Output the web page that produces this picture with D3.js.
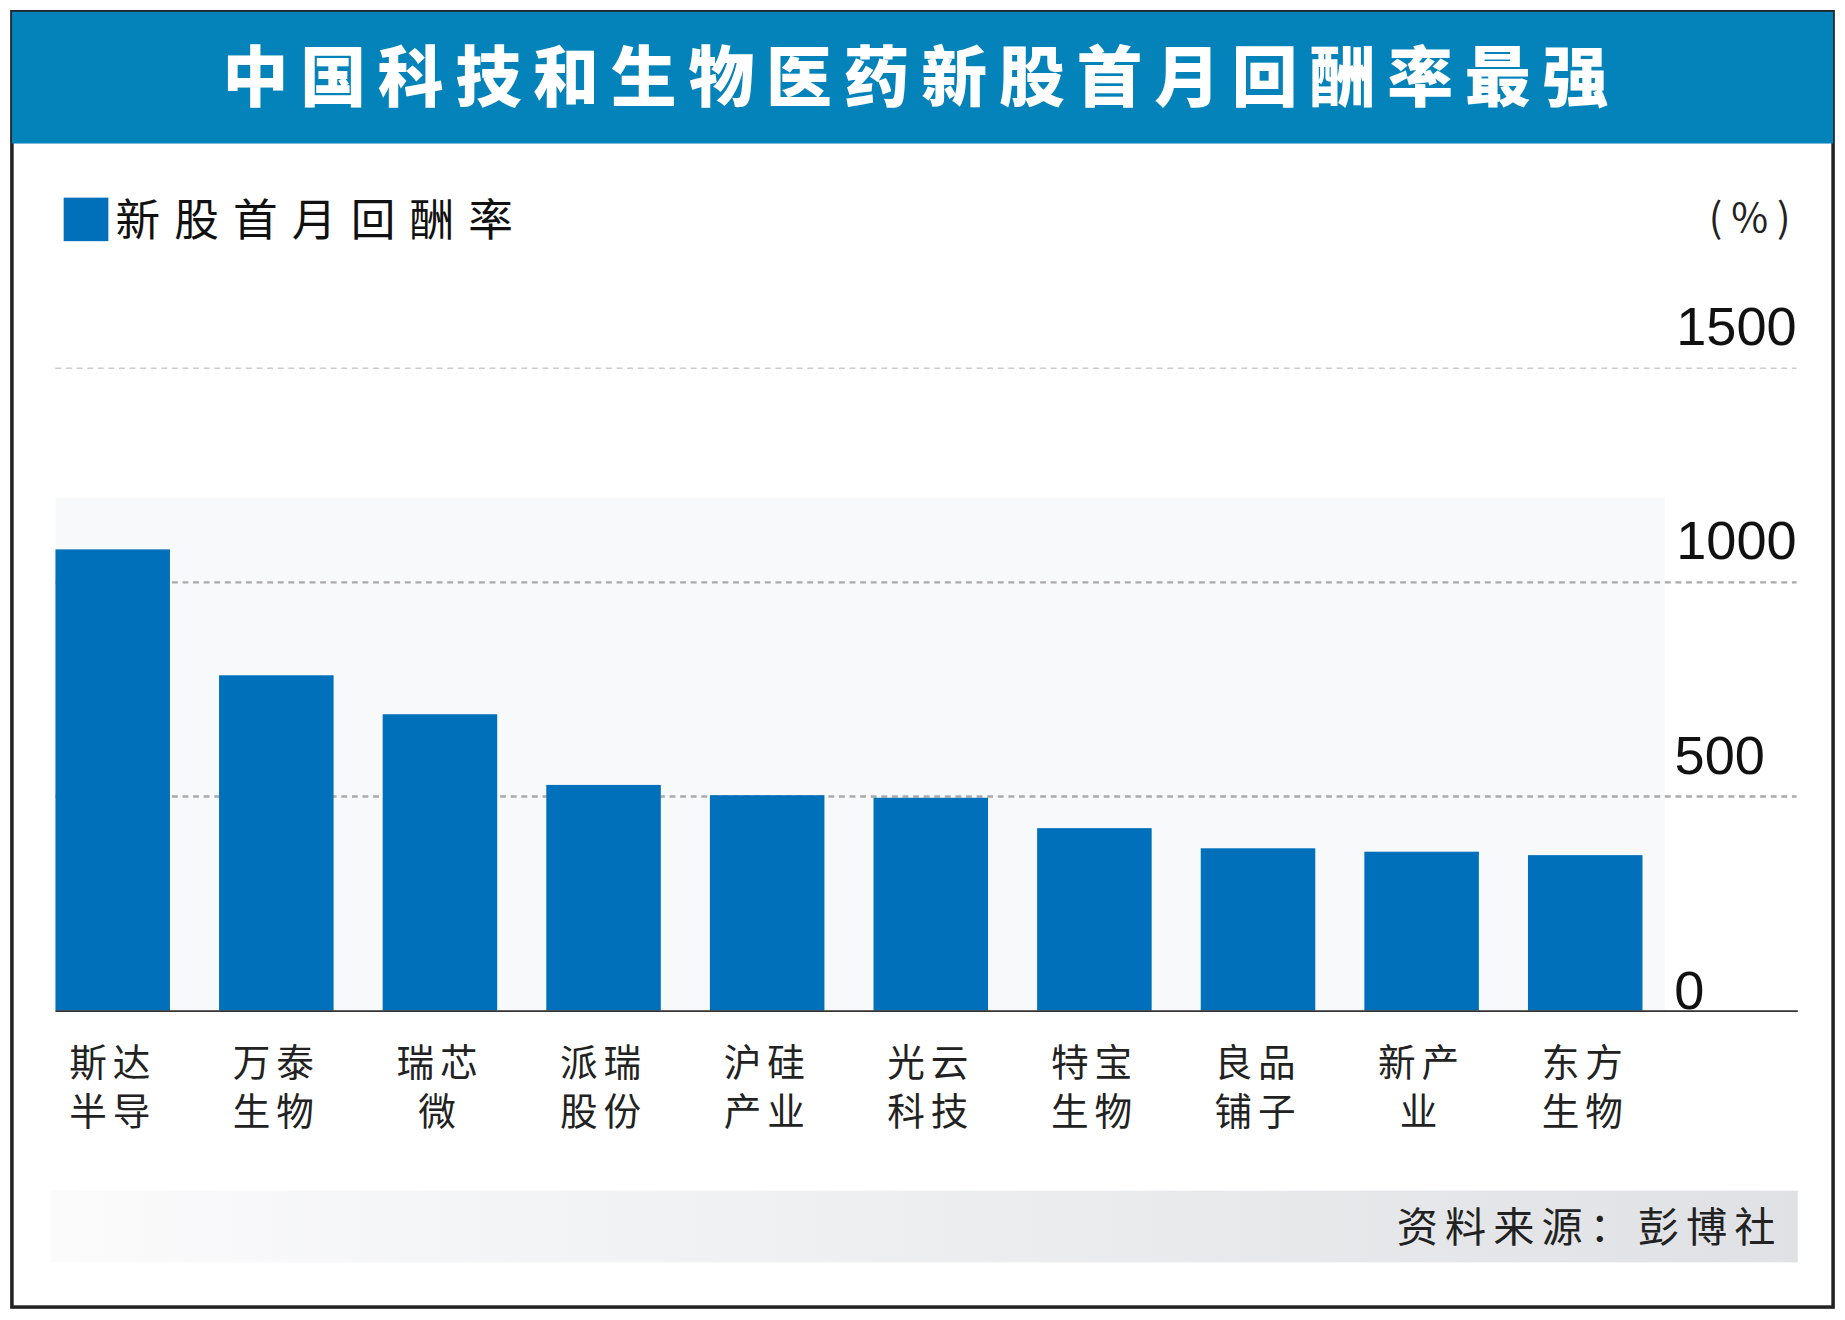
<!DOCTYPE html>
<html><head><meta charset="utf-8">
<script src="https://cdn.jsdelivr.net/npm/d3@7"></script>
<style>body{margin:0;background:#fff}svg{display:block}</style></head>
<body><svg id="c" width="1845" height="1320" viewBox="0 0 1568 1122"></svg>
<script>
const categories = [["斯达","半导"],["万泰","生物"],["瑞芯","微"],["派瑞","股份"],["沪硅","产业"],["光云","科技"],["特宝","生物"],["良品","铺子"],["新产","业"],["东方","生物"]];
const values = [1077, 783, 692, 527, 503, 497, 426, 379, 371, 363];
const ticks = [0, 500, 1000, 1500];
const title = "中国科技和生物医药新股首月回酬率最强";
const legendLabel = "新股首月回酬率";
const source = "资料来源：彭博社";

const svg = d3.select("#c");
const cjk = "'Noto Sans CJK SC', sans-serif";
const blue = "#0070bb";
svg.append("rect").attr("x",10).attr("y",10).attr("width",1548).attr("height",1101).attr("fill","#fff").attr("stroke","#222").attr("stroke-width",3);
svg.append("rect").attr("x",10).attr("y",10).attr("width",1548).attr("height",112).attr("fill","#0383b9");
svg.append("text").attr("x",783).attr("y",86).attr("text-anchor","middle").attr("fill","#fff")
  .attr("font-family",cjk).attr("font-weight",900).attr("font-size",56).attr("letter-spacing",10).text(title);

svg.append("rect").attr("x",54).attr("y",168).attr("width",38).attr("height",37).attr("fill",blue);
svg.append("text").attr("x",98).attr("y",201).attr("font-family",cjk).attr("font-size",38).attr("letter-spacing",12).attr("fill","#111").text(legendLabel);
svg.append("text").attr("x",1487).attr("y",197).attr("text-anchor","middle").attr("font-family",cjk).attr("font-size",34).attr("fill","#222").text("( % )");

const x = d3.scaleBand().domain(d3.range(categories.length)).range([47,1396]).paddingInner(0.3).paddingOuter(0).align(0);
const y = d3.scaleLinear().domain([0,1000]).range([859,495]);

svg.append("rect").attr("x",47).attr("y",423).attr("width",1368).attr("height",436).attr("fill","#f8f9fb");

ticks.filter(t=>t>0).forEach(t=>{
  svg.append("line").attr("x1",47).attr("x2",1527).attr("y1",y(t)).attr("y2",y(t))
    .attr("stroke", t===1500?"#ccc":"#aaa").attr("stroke-width",t===1500?1.2:2).attr("stroke-dasharray","5,4");
});
const ax = svg.append("g").attr("transform","translate(1527,0)").call(d3.axisRight(y).tickValues(ticks).tickSize(0).tickFormat(d3.format("d")));
ax.select(".domain").remove();
ax.selectAll("text").attr("font-family","'Liberation Sans Narrow','Liberation Sans',sans-serif").attr("font-size",46).attr("fill","#111")
  .attr("text-anchor",d=>d===0?"start":"end").attr("x",d=>d===0?-104:(d===500?-27:0)).attr("dy",d=>d===0?-2:-20);

svg.selectAll(".bar").data(values).join("rect").attr("x",(d,i)=>x(i)).attr("width",x.bandwidth())
  .attr("y",d=>y(d)).attr("height",d=>y(0)-y(d)).attr("fill",blue);
svg.append("line").attr("x1",47).attr("x2",1528).attr("y1",859.5).attr("y2",859.5).attr("stroke","#333").attr("stroke-width",1.5);

categories.forEach((c,i)=>{
  c.forEach((s,j)=>{
    svg.append("text").attr("x",x(i)+x.bandwidth()/2).attr("y",915+j*41).attr("text-anchor","middle")
      .attr("font-family",cjk).attr("font-size",32).attr("letter-spacing",5).attr("fill","#222").text(s);
  });
});

const g = svg.append("defs").append("linearGradient").attr("id","fg");
g.append("stop").attr("offset","0").attr("stop-color","#fbfbfc");
g.append("stop").attr("offset","1").attr("stop-color","#dfe1e4");
svg.append("rect").attr("x",43).attr("y",1012).attr("width",1485).attr("height",61).attr("fill","url(#fg)");
svg.append("text").attr("x",1515).attr("y",1056).attr("text-anchor","end").attr("font-family",cjk).attr("font-size",35).attr("letter-spacing",6).attr("fill","#222").text(source);
</script></body></html>
